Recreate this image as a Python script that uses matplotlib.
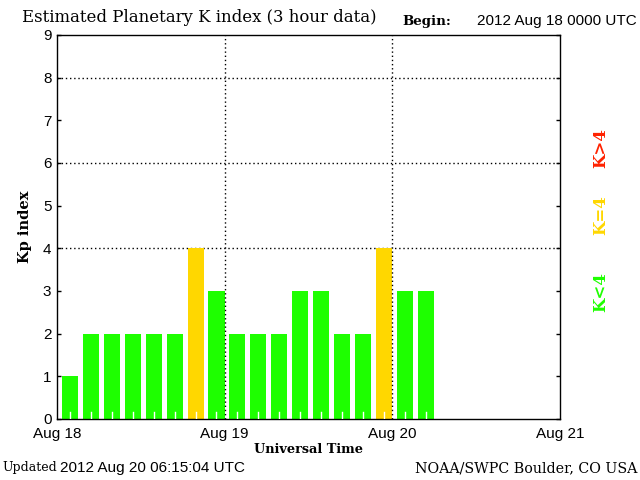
import matplotlib
matplotlib.use("Agg")
import matplotlib.pyplot as plt

kp_values = [1, 2, 2, 2, 2, 2, 4, 3, 2, 2, 2, 3, 3, 2, 2, 4, 3, 3]
day_labels = ["Aug 18", "Aug 19", "Aug 20", "Aug 21"]
y_ticks = [0, 1, 2, 3, 4, 5, 6, 7, 8, 9]

GREEN = "#1EFF00"
YELLOW = "#FFD700"
RED = "#FF2200"

SERIF = "DejaVu Serif"
SANS = "Liberation Sans"

def color_for(k):
    if k < 4:
        return GREEN
    if k == 4:
        return YELLOW
    return RED

fig = plt.figure(figsize=(6.4, 4.8), dpi=100)
ax = fig.add_axes([57/640, 1-419/480, (560-57)/640, (419-35)/480])

hours = [3*i for i in range(len(kp_values))]
bar_left = [h + 0.68 for h in hours]
colors = [color_for(k) for k in kp_values]
ax.bar(bar_left, kp_values, width=2.3, align="edge", color=colors, zorder=2)

# white tick marks at bar centers
for h in bar_left:
    ax.plot([h + 1.15, h + 1.15], [0, 0.17], color="white", lw=1, zorder=3)

ax.set_xlim(0, 72)
ax.set_ylim(0, 9)
ax.set_xticks([0, 24, 48, 72])
ax.set_xticklabels(day_labels, family=SANS, fontsize=11)
ax.tick_params(axis="x", length=0, pad=6)
ax.set_yticks(y_ticks)
ax.set_yticklabels([str(v) for v in y_ticks], family=SANS, fontsize=11)
ax.tick_params(axis="y", direction="in", length=3, left=True, right=True, pad=4, width=1)

for y in [4, 6, 8]:
    ax.axhline(y, color="black", ls=(0, (1, 2)), lw=1, zorder=1)
for x in [24, 48]:
    ax.axvline(x, color="black", ls=(0, (1, 2)), lw=1, zorder=4)

for s in ax.spines.values():
    s.set_linewidth(1)

ax.set_ylabel("Kp index", family=SERIF, fontweight="bold", fontsize=10.5, labelpad=8)
ax.set_xlabel("Universal Time", family=SERIF, fontweight="bold", fontsize=9.3, labelpad=1)

fig.text(22/640, 1-18/480, "Estimated Planetary K index (3 hour data)", family=SERIF,
         fontsize=11.9, va="center", ha="left")
fig.text(402/640, 1-21/480, "Begin:", family=SERIF, fontweight="bold",
         fontsize=9.6, va="center", ha="left")
fig.text(637/640, 1-21/480, "2012 Aug 18 0000 UTC", family=SANS,
         fontsize=11, va="center", ha="right")
fig.text(2/640, 1-468/480, "Updated", family=SERIF, fontsize=9, va="center", ha="left")
fig.text(60/640, 1-468/480, "2012 Aug 20 06:15:04 UTC", family=SANS, fontsize=11,
         va="center", ha="left")
fig.text(637/640, 1-468/480, "NOAA/SWPC Boulder, CO USA", family=SERIF, fontsize=10.3,
         va="center", ha="right")

fig.text(601/640, 1-148/480, "K>4", color=RED, rotation=90, family=SERIF, fontweight="bold",
         fontsize=12, va="center", ha="center")
fig.text(601/640, 1-215/480, "K=4", color=YELLOW, rotation=90, family=SERIF, fontweight="bold",
         fontsize=12, va="center", ha="center")
fig.text(601/640, 1-292/480, "K<4", color=GREEN, rotation=90, family=SERIF, fontweight="bold",
         fontsize=12, va="center", ha="center")

fig.savefig("out.png", dpi=100)
